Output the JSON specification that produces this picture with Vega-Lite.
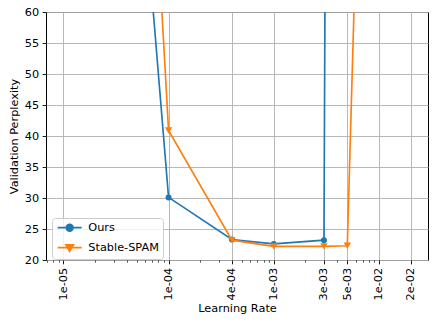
{
  "$schema": "https://vega.github.io/schema/vega-lite/v6.json",
  "autosize": "none",
  "width": 382,
  "height": 248,
  "padding": {"left": 46, "top": 12, "right": 8, "bottom": 65},
  "background": "white",
  "config": {
    "font": "DejaVu Sans",
    "view": {"stroke": "black", "strokeWidth": 1},
    "axis": {
      "domain": false,
      "labelFont": "DejaVu Sans",
      "titleFont": "DejaVu Sans",
      "labelFontSize": 11.3,
      "titleFontSize": 11.3,
      "titleFontWeight": "normal",
      "labelColor": "black",
      "titleColor": "black",
      "tickColor": "black",
      "tickWidth": 0.9,
      "tickSize": 3.85,
      "labelPadding": 3.5,
      "labelOverlap": false,
      "gridColor": "#b0b0b0",
      "gridWidth": 0.9
    }
  },
  "data": {
    "values": [
      {"lr": 0.00001, "ppl": 236, "series": "Ours"},
      {"lr": 0.0001, "ppl": 30.1, "series": "Ours"},
      {"lr": 0.0004, "ppl": 23.3, "series": "Ours"},
      {"lr": 0.001, "ppl": 22.6, "series": "Ours"},
      {"lr": 0.003, "ppl": 23.2, "series": "Ours"},
      {"lr": 0.005, "ppl": 900, "series": "Ours"},
      {"lr": 0.01, "ppl": 1000, "series": "Ours"},
      {"lr": 0.02, "ppl": 1000, "series": "Ours"},
      {"lr": 0.00001, "ppl": 343, "series": "Stable-SPAM"},
      {"lr": 0.0001, "ppl": 40.9, "series": "Stable-SPAM"},
      {"lr": 0.0004, "ppl": 23.2, "series": "Stable-SPAM"},
      {"lr": 0.001, "ppl": 22.2, "series": "Stable-SPAM"},
      {"lr": 0.003, "ppl": 22.2, "series": "Stable-SPAM"},
      {"lr": 0.005, "ppl": 22.3, "series": "Stable-SPAM"},
      {"lr": 0.01, "ppl": 202, "series": "Stable-SPAM"},
      {"lr": 0.02, "ppl": 400, "series": "Stable-SPAM"}
    ]
  },
  "encoding": {
    "y": {
      "field": "ppl", "type": "quantitative",
      "scale": {"domain": [20, 60], "nice": false, "zero": false},
      "axis": {
        "values": [20, 25, 30, 35, 40, 45, 50, 55, 60],
        "title": "Validation Perplexity",
        "titlePadding": 5,
        "labelFlush": false,
        "labelOverlap": false,
        "grid": true
      }
    },
    "color": {
      "field": "series", "type": "nominal",
      "scale": {"domain": ["Ours", "Stable-SPAM"], "range": ["#1f77b4", "#ff7f0e"]},
      "legend": {
        "orient": "none",
        "legendX": 6,
        "legendY": 206,
        "title": null,
        "symbolSize": 64,
        "labelOffset": 21,
        "padding": 4,
        "rowPadding": 6,
        "fillColor": "rgba(255,255,255,0.8)",
        "strokeColor": "#cccccc",
        "cornerRadius": 3,
        "labelFontSize": 11.3,
        "labelFont": "DejaVu Sans",
        "labelColor": "black",
        "encode": {
          "symbols": {
            "update": {
              "shape": {"signal": "datum.value === 'Ours' ? 'M-1,0H5M2.85,0A0.85,0.85 0 1 1 1.15,0A0.85,0.85 0 1 1 2.85,0Z' : 'M-1,0H5M1.05,-0.7L2.95,-0.7L2,0.95Z'"},
              "fill": {"signal": "datum.value === 'Ours' ? '#1f77b4' : '#ff7f0e'"},
              "stroke": {"signal": "datum.value === 'Ours' ? '#1f77b4' : '#ff7f0e'"},
              "strokeWidth": {"value": 1.65},
              "opacity": {"value": 1},
              "fillOpacity": {"value": 1}
            }
          }
        }
      }
    }
  },
  "layer": [
    {
      "transform": [{"filter": "datum.series === 'Ours'"}],
      "mark": {"type": "line", "clip": true, "strokeWidth": 1.65, "point": {"shape": "circle", "filled": true, "size": 36, "opacity": 1}},
      "encoding": {
        "x": {
          "field": "lr", "type": "quantitative",
          "scale": {"type": "log", "domain": [0.00000684, 0.02925], "nice": false},
          "axis": {
            "orient": "bottom",
            "values": [0.00001, 0.0001, 0.0004, 0.001, 0.003, 0.005, 0.01, 0.02],
            "labelExpr": "replace(format(datum.value, '.0e'), 'e-', 'e-0')",
            "labelAngle": -90,
            "labelFlush": false,
            "labelOverlap": false,
            "title": "Learning Rate",
            "titlePadding": 3,
            "grid": true
          }
        }
      }
    },
    {
      "transform": [{"filter": "datum.series === 'Stable-SPAM'"}],
      "mark": {"type": "line", "clip": true, "strokeWidth": 1.65, "point": {"shape": "triangle-down", "filled": true, "size": 55, "opacity": 1}},
      "encoding": {
        "x": {
          "field": "lr", "type": "quantitative",
          "axis": {
            "orient": "bottom",
            "values": [0.000007, 0.000008, 0.000009, 0.00002, 0.00003, 0.00004, 0.00005, 0.00006, 0.00007, 0.00008, 0.00009, 0.0002, 0.0003, 0.0005, 0.0006, 0.0007, 0.0008, 0.0009, 0.002, 0.004, 0.006, 0.007, 0.008, 0.009],
            "labels": false,
            "grid": false,
            "title": null,
            "tickSize": 2.2,
            "tickWidth": 0.66
          }
        }
      }
    }
  ],
  "resolve": {"axis": {"x": "independent"}}
}
